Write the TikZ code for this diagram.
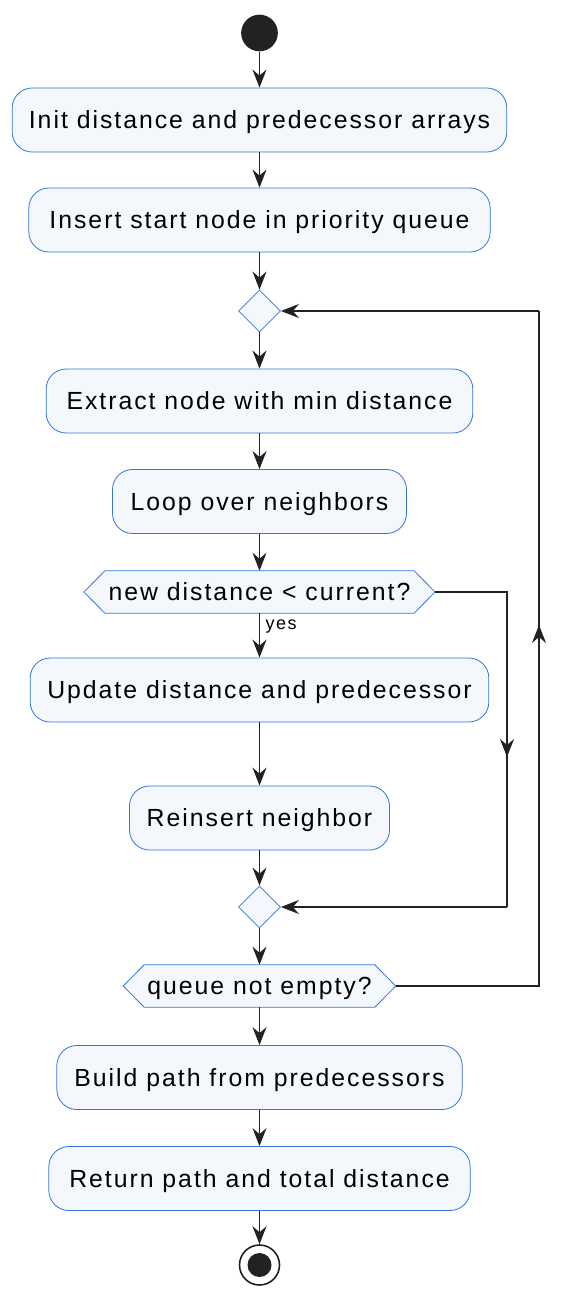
\documentclass[tikz,border=0pt]{standalone}
\usepackage{fontspec}
\setmainfont{Liberation Sans}[LetterSpace=8]
\usetikzlibrary{arrows.meta,shapes.geometric}
\definecolor{boxfill}{RGB}{244,247,252}
\definecolor{boxdraw}{RGB}{50,118,222}
\definecolor{ink}{RGB}{34,34,34}
\begin{document}
\begin{tikzpicture}[x=0.75pt,y=-0.75pt,
  txt/.style={font=\fontsize{18.6}{21}\selectfont,text depth=0pt},
  act/.style={rectangle,rounded corners=15pt,draw=boxdraw,fill=boxfill,line width=0.6pt,
    minimum height=48pt,inner sep=0pt,txt},
  merge/.style={diamond,draw=boxdraw,fill=boxfill,line width=0.6pt,minimum width=31.5pt,minimum height=31.5pt,inner sep=0pt},
  hexa/.style={rectangle,minimum height=31.5pt,inner sep=0pt},
  hexline/.style={draw=boxdraw,fill=boxfill,line width=0.6pt},
  flow/.style={draw=ink,line width=1.2pt,-{Stealth[length=13.5pt,width=10.5pt,inset=4.5pt]}},
  plain/.style={draw=ink,line width=1.2pt},
  lbl/.style={font=\fontsize{13.5}{15}\selectfont,inner sep=0pt,anchor=west}
]
\useasboundingbox (0,0) rectangle (578,1302);
% nodes
\node[circle,fill=ink,minimum size=27.5pt,inner sep=0pt] (start) at (259.5,33) {};
\node[act,minimum width=371pt] (b1) at (259.5,120) {Init distance and predecessor arrays};
\node[act,minimum width=346pt] (b2) at (259.5,220) {Insert start node in priority queue};
\node[merge] (d1) at (259.5,311) {};
\node[act,minimum width=320pt] (b3) at (259.5,401) {Extract node with min distance};
\node[act,minimum width=220.5pt] (b4) at (259.5,501.5) {Loop over neighbors};
\node[hexa,minimum width=263pt] (h1) at (259.5,592) {};
\node[act,minimum width=344pt] (b5) at (259.5,690) {Update distance and predecessor};
\node[act,minimum width=195pt] (b6) at (259.5,818) {Reinsert neighbor};
\node[merge] (d2) at (259.5,907) {};
\node[hexa,minimum width=204pt] (h2) at (259.5,986) {};
\node[act,minimum width=304pt] (b7) at (259.5,1077.5) {Build path from predecessors};
\node[act,minimum width=316pt] (b8) at (259.5,1178.5) {Return path and total distance};
\node[circle,draw=ink,line width=1.2pt,minimum size=30pt,inner sep=0pt] (stop) at (259.5,1265) {};
\node[circle,fill=ink,minimum size=18pt,inner sep=0pt] (stopdot) at (stop.center) {};
% hexagon outlines and texts
\foreach \h in {h1,h2}{
  \filldraw[hexline]
    (\h.west) -- ([xshift=15.75pt]\h.north west) -- ([xshift=-15.75pt]\h.north east)
    -- (\h.east) -- ([xshift=-15.75pt]\h.south east) -- ([xshift=15.75pt]\h.south west) -- cycle;
}
\node[txt] (h1t) at (h1.center) {new distance < current?};
\node[txt] (h2t) at (h2.center) {queue not empty?};
% connectors
\draw[flow] (start) -- (b1);
\draw[flow] (b1) -- (b2);
\draw[flow] (b2) -- (d1);
\draw[flow] (d1) -- (b3);
\draw[flow] (b3) -- (b4);
\draw[flow] (b4) -- (h1);
\draw[flow] (h1) -- node[lbl,pos=0.3,xshift=4pt] {yes} (b5);
\draw[flow] (b5) -- (b6);
\draw[flow] (b6) -- (d2);
\draw[flow] (d2) -- (h2);
\draw[flow] (h2) -- (b7);
\draw[flow] (b7) -- (b8);
\draw[flow] (b8) -- (stop);
% right branch of first decision
\coordinate (r1a) at (507,592);
\coordinate (r1m) at (507,757);
\coordinate (r1b) at (507,907);
\draw[plain] (h1.east) -- (r1a) -- (r1b);
\draw[flow] (r1a) -- (r1m);
\draw[flow] (r1b) -- (d2.east);
% loop back
\coordinate (r2a) at (539,986);
\coordinate (r2m) at (539,625);
\coordinate (r2b) at (539,311);
\draw[plain] (h2.east) -- (r2a) -- (r2b);
\draw[flow] (r2a) -- (r2m);
\draw[flow] (r2b) -- (d1.east);
\end{tikzpicture}
\end{document}
